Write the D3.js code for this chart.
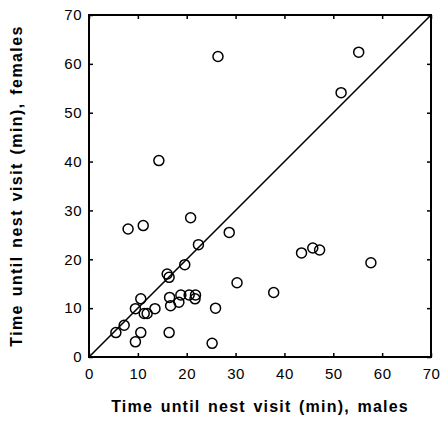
<!DOCTYPE html>
<html>
<head>
<meta charset="utf-8">
<script src="https://cdn.jsdelivr.net/npm/d3@7"></script>
<style>
  body { margin: 0; background: #fff; }
  svg { display: block; }
</style>
</head>
<body>
<div id="chart"></div>
<script>
const width = 443;
const height = 442;

// time until nest visit (min)
const males = [8.0, 11.1, 20.8, 28.7, 22.4, 19.6, 16.0, 16.4, 10.6, 9.5,
  11.3, 11.9, 13.5, 7.2, 5.5, 10.6, 9.5, 16.4, 25.2, 25.9,
  16.5, 16.7, 18.4, 18.8, 20.5, 21.8, 21.7, 30.3, 37.8, 43.5,
  45.8, 47.2, 57.7, 14.3, 26.4, 51.6, 55.2];
const females = [26.2, 26.9, 28.5, 25.5, 23.0, 18.9, 17.0, 16.3, 11.9, 9.9,
  8.9, 8.9, 9.9, 6.5, 5.0, 5.0, 3.1, 5.0, 2.8, 10.0,
  12.2, 10.5, 11.2, 12.7, 12.7, 12.7, 11.9, 15.2, 13.2, 21.3,
  22.3, 21.9, 19.3, 40.2, 61.5, 54.1, 62.4];
const ticks = [0, 10, 20, 30, 40, 50, 60, 70];

const margin = {top: 15, right: 12, bottom: 85, left: 89};

const svg = d3.select("#chart")
  .append("svg")
  .attr("width", width)
  .attr("height", height);

const x = d3.scaleLinear().domain([0, 70]).range([margin.left, width - margin.right]);
const y = d3.scaleLinear().domain([0, 70]).range([height - margin.bottom, margin.top]);

const font = "Liberation Sans, Arial, Helvetica, sans-serif";

// inward ticks on all four sides
function styleAxis(g) {
  g.select(".domain").remove();
  g.selectAll(".tick line").attr("stroke", "#000").attr("stroke-width", 1.5);
  g.selectAll(".tick text")
    .attr("font-family", font)
    .attr("font-size", 15)
    .attr("letter-spacing", 0.5)
    .attr("fill", "#000");
}

svg.append("g")
  .attr("transform", "translate(0," + y(0) + ")")
  .call(d3.axisBottom(x).tickValues(ticks).tickSizeInner(-4).tickPadding(9))
  .call(styleAxis)
  .selectAll(".tick text").attr("dy", "0.85em");

svg.append("g")
  .attr("transform", "translate(" + x(0) + ",0)")
  .call(d3.axisLeft(y).tickValues(ticks).tickSizeInner(-4).tickPadding(7))
  .call(styleAxis);

svg.append("g")
  .attr("transform", "translate(0," + y(70) + ")")
  .call(d3.axisTop(x).tickValues(ticks).tickSizeInner(-4).tickFormat(""))
  .call(styleAxis);

svg.append("g")
  .attr("transform", "translate(" + x(70) + ",0)")
  .call(d3.axisRight(y).tickValues(ticks).tickSizeInner(-4).tickFormat(""))
  .call(styleAxis);

// frame
svg.append("rect")
  .attr("x", x(0))
  .attr("y", y(70))
  .attr("width", x(70) - x(0))
  .attr("height", y(0) - y(70))
  .attr("fill", "none")
  .attr("stroke", "#000")
  .attr("stroke-width", 2);

// line of equality
svg.append("line")
  .attr("x1", x(0)).attr("y1", y(0))
  .attr("x2", x(70)).attr("y2", y(70))
  .attr("stroke", "#000")
  .attr("stroke-width", 1.6);

svg.append("g")
  .selectAll("circle")
  .data(d3.range(males.length))
  .enter()
  .append("circle")
  .attr("cx", i => x(males[i]))
  .attr("cy", i => y(females[i]))
  .attr("r", 5)
  .attr("fill", "none")
  .attr("stroke", "#000")
  .attr("stroke-width", 1.5);

svg.append("text")
  .attr("x", (x(0) + x(70)) / 2)
  .attr("y", 412)
  .attr("text-anchor", "middle")
  .attr("font-family", font)
  .attr("font-weight", "bold")
  .attr("font-size", 16)
  .attr("letter-spacing", 1.2)
  .attr("word-spacing", 2)
  .text("Time until nest visit (min), males");

svg.append("text")
  .attr("transform", "translate(22," + (y(0) + y(70)) / 2 + ") rotate(-90)")
  .attr("text-anchor", "middle")
  .attr("font-family", font)
  .attr("font-weight", "bold")
  .attr("font-size", 16)
  .attr("letter-spacing", 1.4)
  .attr("word-spacing", 2)
  .text("Time until nest visit (min), females");
</script>
</body>
</html>
